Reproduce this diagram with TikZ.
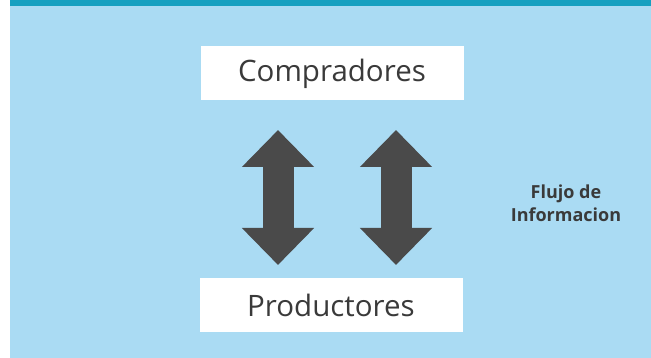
\documentclass[tikz,border=0pt]{standalone}
\usepackage{fontspec}
\setmainfont{Open Sans}
\usepackage{xcolor}
\usetikzlibrary{arrows.meta}
\usetikzlibrary{positioning}
\definecolor{fondo}{RGB}{170,219,243}
\definecolor{franja}{RGB}{22,160,192}
\definecolor{gris}{RGB}{74,74,74}
\definecolor{texto}{RGB}{58,58,58}
\tikzstyle{caja}=[rectangle,fill=white,minimum width=263pt,minimum height=54pt,inner sep=0pt,text=texto,font=\fontsize{29.5}{33}\selectfont]
\tikzstyle{flujo} = [draw=gris,line width=31pt,{Triangle[width=70pt,length=37pt]}-{Triangle[width=70pt,length=37pt]}]
\tikzstyle{nota} = [font=\bfseries\fontsize{18}{23}\selectfont,text=texto,align=center]

\begin{document}
\begin{tikzpicture}[x=1pt,y=1pt]

  % fondo y franja superior
  \useasboundingbox (0,0) rectangle (651,358);
  \fill[white] (0,0) rectangle (651,358);
  \fill[fondo] (10,0) rectangle (651,358);
  \fill[franja] (10,352) rectangle (651,358);

  \node[caja] (comp) at (332,284.5) {Compradores};
  \node[caja] (prod) at (331,53) {Productores};

  % puntas de las flechas
  \foreach \x/\name in {278/a, 396/b}
  {
    \coordinate (\name1) at (\x,228);
    \coordinate (\name2) at (\x,93);
  }

  \foreach \source/ \dest in {a1/a2, b1/b2}
         \path[flujo] (\source) -- (\dest);

  \node[nota] (info) at (566,155) {Flujo de\\Informacion};

\end{tikzpicture}
\end{document}
